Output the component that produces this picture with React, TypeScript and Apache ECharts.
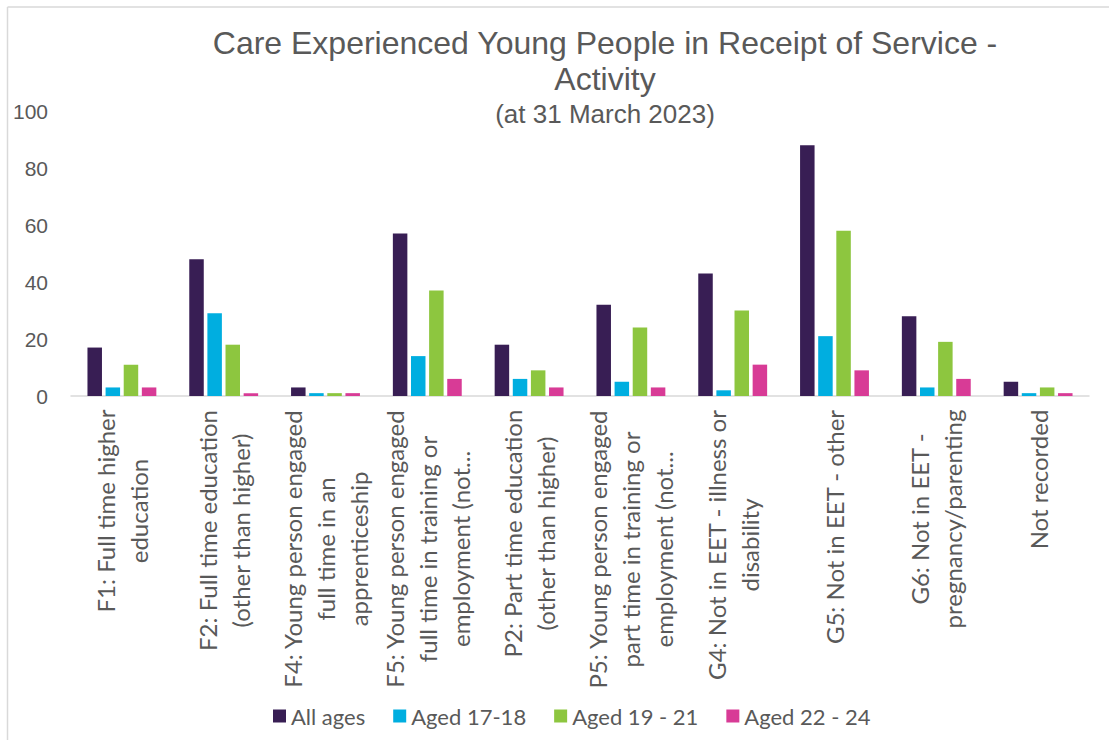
import React, { useEffect, useRef } from "react";
import * as echarts from "echarts";

const categories = [
  "F1: Full time higher\neducation",
  "F2: Full time education\n(other than higher)",
  "F4: Young person engaged\nfull time in an\napprenticeship",
  "F5: Young person engaged\nfull time in training or\nemployment (not...",
  "P2: Part time education\n(other than higher)",
  "P5: Young person engaged\npart time in training or\nemployment (not...",
  "G4: Not in EET - illness or\ndisability",
  "G5: Not in EET - other",
  "G6: Not in EET -\npregnancy/parenting",
  "Not recorded",
];

const seriesNames = ["All ages", "Aged 17-18", "Aged 19 - 21", "Aged 22 - 24"];
const allAges = [17, 48, 3, 57, 18, 32, 43, 88, 28, 5];
const aged17to18 = [3, 29, 1, 14, 6, 5, 2, 21, 3, 1];
const aged19to21 = [11, 18, 1, 37, 9, 24, 30, 58, 19, 3];
const aged22to24 = [3, 1, 1, 6, 3, 3, 11, 9, 6, 1];
const seriesValues = [allAges, aged17to18, aged19to21, aged22to24];
const seriesColors = ["#381e54", "#00aee0", "#8dc63f", "#d83b96"];

const yMin = 0;
const yMax = 100;
const yInterval = 20;

const titleLine1 = "Care Experienced Young People in Receipt of Service -";
const titleLine2 = "Activity";
const subtitle = "(at 31 March 2023)";

const TEXT_COLOR = "#595959";
const LABEL_FONT_SIZE = 24;
const LABEL_FONT_FAMILY = "Lato";
const LABEL_LINE_HEIGHT = 33;

function measure(text: string, font: string): number {
  const canvas = document.createElement("canvas");
  const ctx = canvas.getContext("2d");
  if (!ctx) return text.length * 11;
  ctx.font = font;
  return ctx.measureText(text).width;
}

function buildRich() {
  const font = `${LABEL_FONT_SIZE}px ${LABEL_FONT_FAMILY}`;
  const rich: Record<string, any> = {};
  categories.forEach((c, i) => {
    const w = Math.max(...c.split("\n").map((l) => measure(l, font)));
    rich["c" + i] = {
      width: Math.ceil(w) + 1,
      align: "center",
      overflow: "none",
      fontFamily: LABEL_FONT_FAMILY,
      fontSize: LABEL_FONT_SIZE,
      color: TEXT_COLOR,
      lineHeight: LABEL_LINE_HEIGHT,
    };
  });
  return rich;
}

export default function App() {
  const ref = useRef<HTMLDivElement>(null);

  useEffect(() => {
    if (!ref.current) return;
    let disposed = false;
    const chart = echarts.init(ref.current, undefined, { renderer: "svg" });

    chart.setOption({
      animation: false,
      backgroundColor: "#ffffff",
      graphic: [
        {
          type: "line",
          shape: { x1: 7.5, y1: 7, x2: 1109, y2: 7 },
          style: { stroke: "#d9d9d9", lineWidth: 1.5 },
          silent: true,
        },
        {
          type: "line",
          shape: { x1: 7.5, y1: 7, x2: 7.5, y2: 740 },
          style: { stroke: "#d9d9d9", lineWidth: 1.5 },
          silent: true,
        },
        {
          type: "text",
          x: 605,
          y: 43,
          style: {
            text: titleLine1,
            fill: TEXT_COLOR,
            font: '32px "Liberation Sans", Arial, sans-serif',
            textAlign: "center",
            textVerticalAlign: "middle",
          },
        },
        {
          type: "text",
          x: 605,
          y: 79,
          style: {
            text: titleLine2,
            fill: TEXT_COLOR,
            font: '32px "Liberation Sans", Arial, sans-serif',
            textAlign: "center",
            textVerticalAlign: "middle",
          },
        },
        {
          type: "text",
          x: 605,
          y: 114,
          style: {
            text: subtitle,
            fill: TEXT_COLOR,
            font: '26px "Liberation Sans", Arial, sans-serif',
            textAlign: "center",
            textVerticalAlign: "middle",
          },
        },
      ],
      legend: {
        left: 268,
        top: 700,
        itemWidth: 13,
        itemHeight: 13,
        itemGap: 28,
        icon: "rect",
        textStyle: {
          color: TEXT_COLOR,
          fontFamily: LABEL_FONT_FAMILY,
          fontSize: 22,
        },
        data: seriesNames,
      },
      grid: { left: 71, right: 20, top: 111, bottom: 344, containLabel: false },
      xAxis: {
        type: "category",
        data: categories,
        axisLine: { lineStyle: { color: "#d9d9d9", width: 1.5 } },
        axisTick: { show: false },
        axisLabel: {
          interval: 0,
          rotate: 90,
          margin: 13,
          color: TEXT_COLOR,
          fontFamily: LABEL_FONT_FAMILY,
          fontSize: LABEL_FONT_SIZE,
          lineHeight: LABEL_LINE_HEIGHT,
          formatter: (value: string, index: number) =>
            value
              .split("\n")
              .map((l) => `{c${index}|${l}}`)
              .join("\n"),
          rich: buildRich(),
        },
      },
      yAxis: {
        type: "value",
        min: yMin,
        max: yMax,
        interval: yInterval,
        axisLine: { show: false },
        axisTick: { show: false },
        splitLine: { show: false },
        axisLabel: {
          color: TEXT_COLOR,
          fontFamily: '"Liberation Sans", Arial, sans-serif',
          fontSize: 21,
          margin: 23,
        },
      },
      series: seriesNames.map((name, i) => ({
        name,
        type: "bar",
        data: seriesValues[i],
        barWidth: 14.5,
        barGap: "25%",
        itemStyle: { color: seriesColors[i] },
      })),
    });

    const fonts = (document as any).fonts;
    if (fonts && fonts.load) {
      fonts
        .load(`${LABEL_FONT_SIZE}px ${LABEL_FONT_FAMILY}`)
        .then(() => {
          if (disposed) return;
          chart.setOption({ xAxis: { axisLabel: { rich: buildRich() } } });
        })
        .catch(() => {});
    }

    return () => {
      disposed = true;
      chart.dispose();
    };
  }, []);

  return (
    <div
      ref={ref}
      style={{ position: "absolute", left: 0, top: 0, width: 1109, height: 740 }}
    />
  );
}
